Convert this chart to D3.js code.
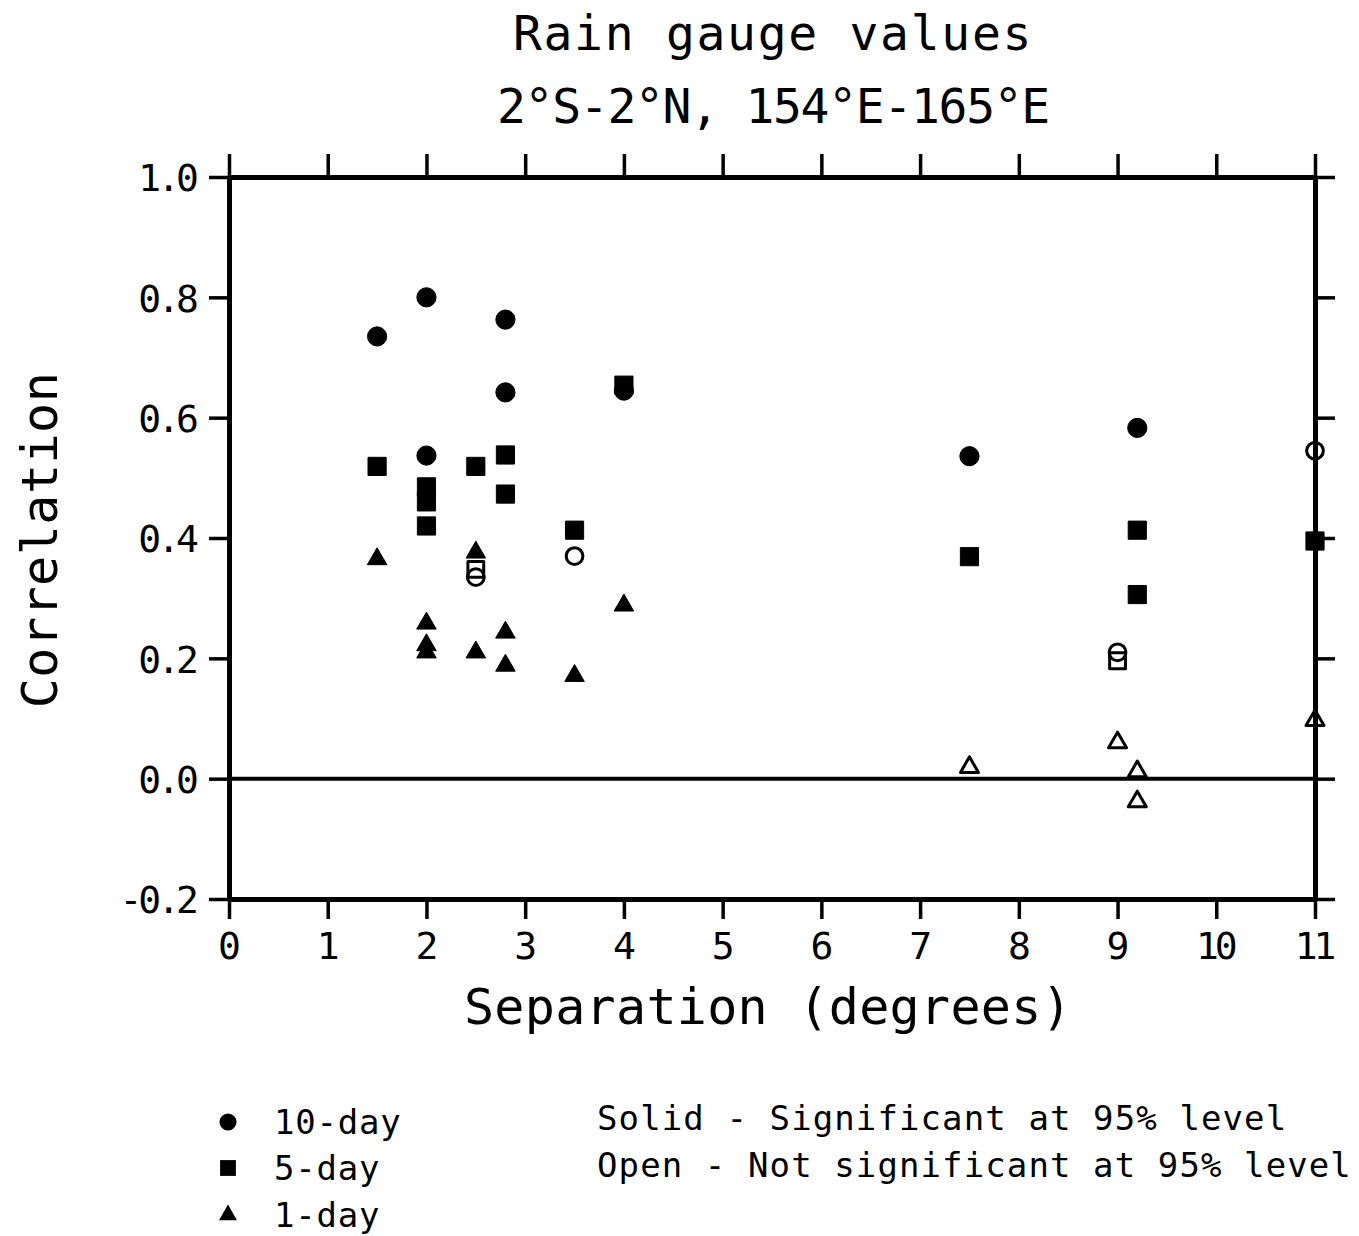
<!DOCTYPE html>
<html>
<head>
<meta charset="utf-8">
<script src="https://cdn.jsdelivr.net/npm/d3@7"></script>
<style>
  html, body { margin: 0; padding: 0; background: #fff; }
  svg { display: block; }
  text { font-family: "DejaVu Sans Mono", monospace; fill: #000; }
</style>
</head>
<body>
<svg id="chart" width="1359" height="1236"></svg>
<script>
// ---------- data ----------
const titleLines = ["Rain gauge values", "2°S-2°N, 154°E-165°E"];
const xTicks = [0, 1, 2, 3, 4, 5, 6, 7, 8, 9, 10, 11];
const yTicks = [-0.2, 0.0, 0.2, 0.4, 0.6, 0.8, 1.0];
const yTickLabels = ["-0.2", "0.0", "0.2", "0.4", "0.6", "0.8", "1.0"];
const xLabel = "Separation (degrees)";
const yLabel = "Correlation";

// [separation, correlation, significant]
const tenDay = [
  [1.5, 0.735, true], [2.0, 0.800, true], [2.0, 0.537, true], [2.8, 0.763, true],
  [2.8, 0.642, true], [4.0, 0.645, true], [7.5, 0.536, true], [9.2, 0.583, true],
  [2.5, 0.335, false], [3.5, 0.370, false], [9.0, 0.210, false], [11.0, 0.545, false]
];
const fiveDay = [
  [1.5, 0.519, true], [2.0, 0.485, true], [2.0, 0.460, true], [2.0, 0.420, true],
  [2.5, 0.519, true], [2.8, 0.538, true], [2.8, 0.473, true], [3.5, 0.413, true],
  [4.0, 0.654, true], [7.5, 0.369, true], [9.2, 0.413, true], [9.2, 0.306, true],
  [11.0, 0.395, true], [2.5, 0.348, false], [9.0, 0.196, false]
];
const oneDay = [
  [1.5, 0.365, true], [2.0, 0.258, true], [2.0, 0.222, true], [2.0, 0.210, true],
  [2.5, 0.376, true], [2.5, 0.210, true], [2.8, 0.243, true], [2.8, 0.188, true],
  [3.5, 0.171, true], [4.0, 0.288, true], [7.5, 0.019, false], [9.0, 0.060, false],
  [9.2, 0.012, false], [9.2, -0.038, false], [11.0, 0.097, false]
];
const legendSeries = ["10-day", "5-day", "1-day"];
const legendNotes = ["Solid - Significant at 95% level", "Open - Not significant at 95% level"];

// ---------- layout ----------
const svg = d3.select("#chart");
const mLeft = 229, mRight = 1315, mTop = 177, mBottom = 899;
const x = d3.scaleLinear().domain([0, 11]).range([mLeft, mRight]);
const y = d3.scaleLinear().domain([-0.2, 1.0]).range([mBottom, mTop]);

// titles
svg.append("text").attr("x", 773).attr("y", 50).attr("text-anchor", "middle")
  .attr("font-size", 48).attr("letter-spacing", 1.7).text(titleLines[0]);
svg.append("text").attr("x", 773).attr("y", 123).attr("text-anchor", "middle")
  .attr("font-size", 48).attr("letter-spacing", -1.3).text(titleLines[1]);

// axes
const tickLen = 20;
function styleAxis(g) {
  g.select(".domain").attr("stroke", "#000").attr("stroke-width", 5);
  g.selectAll(".tick line").attr("stroke", "#000").attr("stroke-width", 3.5);
}
const bottomAxis = svg.append("g").attr("transform", `translate(0,${mBottom})`)
  .call(d3.axisBottom(x).tickValues(xTicks).tickSize(tickLen).tickSizeOuter(0).tickFormat(d3.format("d")));
bottomAxis.call(styleAxis);
bottomAxis.selectAll(".tick text").attr("font-size", 38).attr("letter-spacing", -4)
  .attr("font-family", "DejaVu Sans Mono").attr("y", 60).attr("dy", null).attr("dx", -2);

const topAxis = svg.append("g").attr("transform", `translate(0,${mTop})`)
  .call(d3.axisTop(x).tickValues(xTicks).tickSize(23).tickSizeOuter(0).tickFormat(""));
topAxis.call(styleAxis);

const leftAxis = svg.append("g").attr("transform", `translate(${mLeft},0)`)
  .call(d3.axisLeft(y).tickValues(yTicks).tickSize(tickLen).tickSizeOuter(0)
    .tickFormat((d, i) => yTickLabels[i]));
leftAxis.call(styleAxis);
leftAxis.selectAll(".tick text").attr("font-size", 38).attr("letter-spacing", -4)
  .attr("font-family", "DejaVu Sans Mono").attr("x", -34).attr("dy", "0.36em");

const rightAxis = svg.append("g").attr("transform", `translate(${mRight},0)`)
  .call(d3.axisRight(y).tickValues(yTicks).tickSize(tickLen).tickSizeOuter(0).tickFormat(""));
rightAxis.call(styleAxis);

// zero line
svg.append("line").attr("x1", mLeft).attr("x2", mRight).attr("y1", y(0)).attr("y2", y(0))
  .attr("stroke", "#000").attr("stroke-width", 4);

// axis labels
svg.append("text").attr("x", 768).attr("y", 1024).attr("text-anchor", "middle")
  .attr("font-size", 50).attr("letter-spacing", 0.3).text(xLabel);
svg.append("text").attr("transform", `translate(57,540) rotate(-90)`).attr("text-anchor", "middle")
  .attr("font-size", 50).attr("letter-spacing", 0.5).text(yLabel);

// markers
const symTypes = { circle: d3.symbolCircle, square: d3.symbolSquare, triangle: d3.symbolTriangle };
const solidSize = { circle: 290, square: 330, triangle: 165 };
const openSize = { circle: 220, square: 250, triangle: 140 };

function drawSeries(data, kind) {
  svg.append("g").selectAll("path").data(data).join("path")
    .attr("transform", d => `translate(${x(d[0])},${y(d[1])})`)
    .attr("d", d => d3.symbol(symTypes[kind], d[2] ? solidSize[kind] : openSize[kind])())
    .attr("fill", d => d[2] ? "#000" : "none")
    .attr("stroke", "#000")
    .attr("stroke-width", d => d[2] ? 1 : 3)
    .attr("stroke-linejoin", "round");
}
drawSeries(fiveDay, "square");
drawSeries(tenDay, "circle");
drawSeries(oneDay, "triangle");

// legend
const legendKinds = ["circle", "square", "triangle"];
const legendSizes = [230, 250, 140];
const legendY = [1122, 1168, 1215];
legendSeries.forEach((s, i) => {
  svg.append("path").attr("transform", `translate(228,${legendY[i]})`)
    .attr("d", d3.symbol(symTypes[legendKinds[i]], legendSizes[i])())
    .attr("fill", "#000");
  svg.append("text").attr("x", 274).attr("y", legendY[i] + 12).attr("font-size", 34)
    .attr("letter-spacing", 0.8).text(s);
});
legendNotes.forEach((t, i) => {
  svg.append("text").attr("x", 597).attr("y", 1130 + i * 47).attr("font-size", 34)
    .attr("letter-spacing", 1.1).text(t);
});
</script>
</body>
</html>
